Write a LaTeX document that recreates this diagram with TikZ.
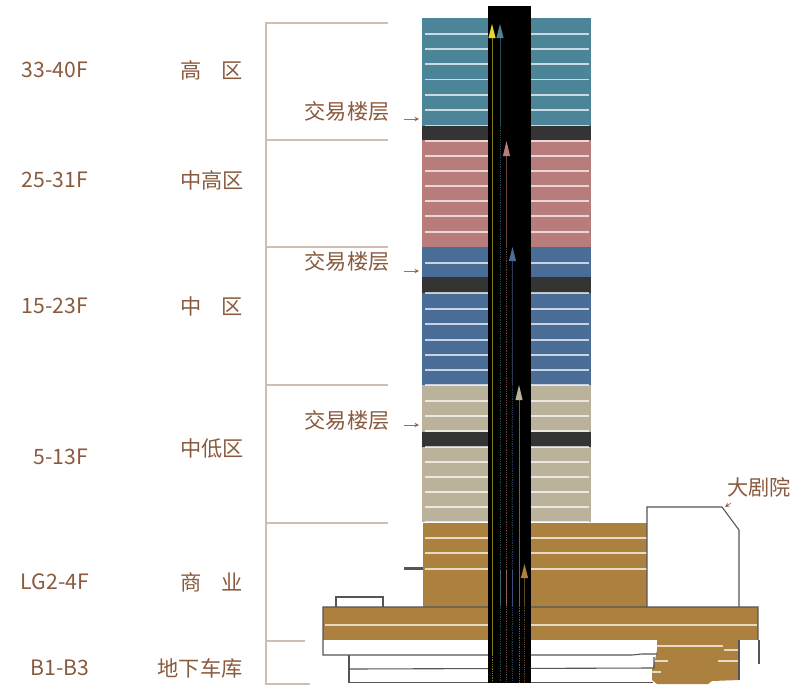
\documentclass[tikz,border=0pt]{standalone}
\usepackage{fontspec}
\setmainfont{Noto Sans CJK SC}
\definecolor{labelbrown}{HTML}{8A5A3E}
\definecolor{bracketline}{HTML}{D2BDB1}
\definecolor{tealzone}{HTML}{4B8597}
\definecolor{pinkzone}{HTML}{B87C7A}
\definecolor{bluezone}{HTML}{4A6D98}
\definecolor{tanzone}{HTML}{BAB29A}
\definecolor{brownzone}{HTML}{AC803F}
\definecolor{darkfloor}{HTML}{343434}
\definecolor{outlinegray}{HTML}{555555}
\definecolor{liftyellow}{HTML}{E8D62E}
\usetikzlibrary{arrows.meta}
\tikzset{
  zonelabel/.style={text=labelbrown,font=\fontsize{21.2}{23}\selectfont,inner sep=0pt},
  bracket/.style={draw=bracketline,line width=1.4pt},
  floorline/.style={draw=white,opacity=0.7,line width=1.3pt},
  outline/.style={draw=outlinegray,line width=1.1pt},
  leader/.style={draw=labelbrown,opacity=0.85,line width=0.7pt,-{Stealth[length=4.5pt,width=4.5pt]}}
}
% one lift: x, top of arrow, base of arrow, end of solid part, colour
\newcommand{\liftshaft}[5]{
  \fill[#5] (#1,#2) -- (#1+3.6,#3) -- (#1-3.6,#3) -- cycle;
  \draw[#5,opacity=0.55,line width=0.8pt] (#1,#3) -- (#1,#4);
  \draw[#5,opacity=0.55,line width=0.8pt,densely dotted] (#1,#4) -- (#1,682);
}
\begin{document}
\begin{tikzpicture}[x=1pt,y=-1pt]
  \useasboundingbox (0,0) rectangle (800,699);
  % zones
  \fill[tealzone] (422,18) rectangle (591,126);
  \fill[darkfloor] (422,126) rectangle (591,140);
  \fill[pinkzone] (422,140) rectangle (591,247);
  \fill[bluezone] (422,247) rectangle (591,277);
  \fill[darkfloor] (422,277) rectangle (591,293);
  \fill[bluezone] (422,293) rectangle (591,385);
  \fill[tanzone] (422,385) rectangle (591,432);
  \fill[darkfloor] (422,432) rectangle (591,447);
  \fill[tanzone] (422,447) rectangle (591,522);
  % podium
  \fill[brownzone] (423,523) rectangle (647,607);
  \fill[brownzone] (323,607) rectangle (758,640);
  \fill[brownzone] (657,640) -- (739,640) -- (739,680) -- (712,681) -- (708,684) -- (657,684) -- (652,680) -- (652,670) -- (655,660) -- (657,650) -- cycle;
  % floor lines
  \foreach \y in {34,49,64,79.5,95,110,125.5,141,156,171,186,201,216,232,263,293,309,324,340,355,370,385,401,416,431,447,462,477,492,507,522} {
    \draw[floorline] (425,\y) -- (488,\y);
    \draw[floorline] (531,\y) -- (589,\y);
  }
  \foreach \y in {538,553,569} \draw[floorline] (425,\y) -- (647,\y);
  \draw[floorline] (325,625) -- (757,625);
  \draw[floorline] (657,646) -- (723,646);
  \draw[floorline] (724,650) -- (739,650);
  \draw[floorline] (655,661) -- (668,661);
  \draw[floorline] (718,661) -- (739,661);
  \draw[floorline] (652,672) -- (661,672);
  % outlines
  \draw[outline] (647,607) -- (647,507) -- (722,507) -- (739,530) -- (739,607);
  \draw[outline] (336,607) -- (336,597) -- (383,597) -- (383,607);
  \draw[outline] (758,640) -- (758,607) -- (323,607) -- (323,655) -- (632,655) -- (642,654) -- (657,654);
  \draw[outline] (759,640) -- (759,664);
  \draw[outline] (349,655) -- (349,682.5) -- (653,682.5);
  \draw[outline] (349,669) -- (654,668) -- (654,657);
  \draw[outline] (739,640) -- (739,680);
  \fill[outlinegray] (404,567) rectangle (423,570);
  % core
  \fill[black] (488,6) rectangle (531,682.5);
  \liftshaft{492}{24}{38}{655}{liftyellow}
  \liftshaft{500}{24}{38}{126}{tealzone}
  \liftshaft{506.5}{141}{156}{247}{pinkzone}
  \liftshaft{512.5}{247}{261}{385}{bluezone}
  \liftshaft{519}{385}{400}{606}{tanzone}
  \liftshaft{524.5}{564}{578}{606}{brownzone}
  \draw[tealzone,opacity=0.65,line width=0.8pt] (500,570) -- (500,606);
  \draw[pinkzone,opacity=0.65,line width=0.8pt] (506.5,570) -- (506.5,606);
  \draw[bluezone,opacity=0.65,line width=0.8pt] (512.5,570) -- (512.5,606);
  % brackets
  \draw[bracket] (388,23) -- (266,23) -- (266,684) -- (310,684);
  \foreach \y in {140,247,385,523} \draw[bracket] (266,\y) -- (388,\y);
  \draw[bracket] (266,641) -- (305,641);
  % labels
  \node[zonelabel] (range-high) at (55,70) {33-40F};
  \node[zonelabel] (zone-high) at (212,70) {高\hspace{20pt}区};
  \node[zonelabel] (range-midhigh) at (55,180) {25-31F};
  \node[zonelabel] (zone-midhigh) at (212,180) {中高区};
  \node[zonelabel] (range-mid) at (55,306) {15-23F};
  \node[zonelabel] (zone-mid) at (212,306) {中\hspace{20pt}区};
  \node[zonelabel] (range-midlow) at (61,457) {5-13F};
  \node[zonelabel] (zone-midlow) at (212,448) {中低区};
  \node[zonelabel] (range-shop) at (55,582) {LG2-4F};
  \node[zonelabel] (zone-shop) at (212,582) {商\hspace{20pt}业};
  \node[zonelabel] (range-park) at (60,668) {B1-B3};
  \node[zonelabel] (zone-park) at (200,668) {地下车库};
  \node[zonelabel] (trade-a) at (347,111) {交易楼层};
  \node[zonelabel] (trade-b) at (347,261) {交易楼层};
  \node[zonelabel] (trade-c) at (347,420) {交易楼层};
  \node[zonelabel] (theatre) at (759,487) {大剧院};
  % small arrows
  \coordinate (tip-a) at (419,119);
  \coordinate (tip-b) at (419,271);
  \coordinate (tip-c) at (419,425);
  \coordinate (tail-d) at (731,503);
  \coordinate (tip-d) at (725,507);
  \draw[leader] (404,119) -- (tip-a);
  \draw[leader] (404,271) -- (tip-b);
  \draw[leader] (404,425) -- (tip-c);
  \draw[leader] (tail-d) -- (tip-d);
\end{tikzpicture}
\end{document}
